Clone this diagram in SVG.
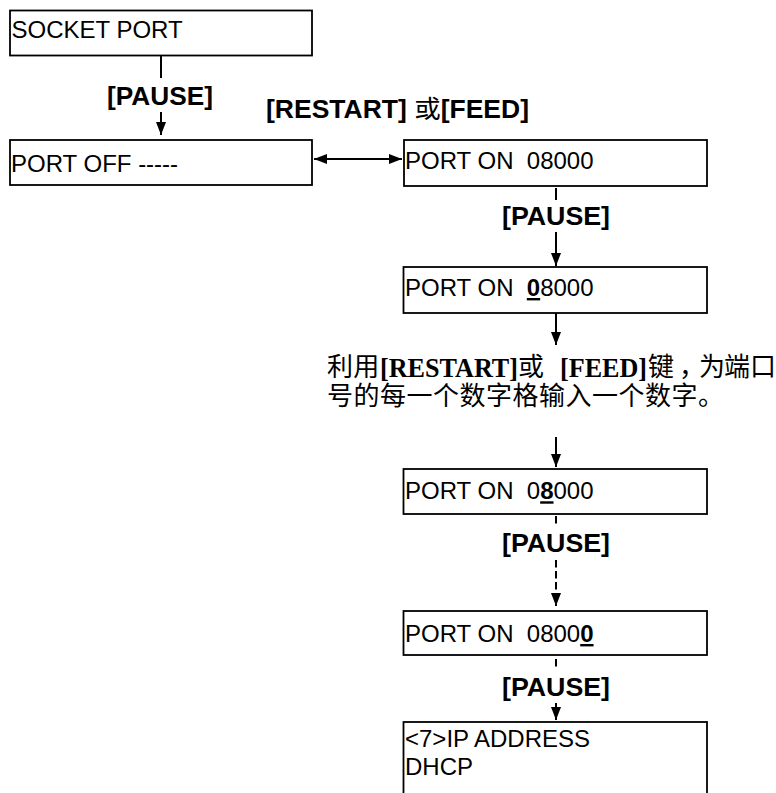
<svg xmlns="http://www.w3.org/2000/svg" width="776" height="793" viewBox="0 0 776 793">
<style>
.box{fill:#fff;stroke:#000;stroke-width:1.8}
.t{font-family:"Liberation Sans",Arial,sans-serif;font-size:24px;fill:#000}
.u{font-weight:bold;text-decoration:underline}
.lbl{font-family:"Liberation Sans",Arial,"Noto Sans CJK SC",sans-serif;font-size:25px;font-weight:bold;fill:#000}
.cj{font-family:"Noto Sans CJK SC",sans-serif;font-weight:normal}
.cjk{font-family:"Noto Sans CJK SC",sans-serif;font-size:26px;fill:#000}
.ser{font-family:"Liberation Serif","Times New Roman",serif;font-weight:bold;font-size:27px}
.ln{stroke:#000;stroke-width:2;fill:none}
.ds{stroke:#000;stroke-width:2;fill:none;stroke-dasharray:7.5 3.5}
</style>
<defs>
<marker id="ah" markerUnits="userSpaceOnUse" markerWidth="13" markerHeight="10" refX="13" refY="5" orient="auto-start-reverse" viewBox="0 0 13 10">
<path d="M0,0 L13,5 L0,10 z" fill="#000"/>
</marker>
</defs>
<g id="socket-port"><rect class="box" x="10" y="10.5" width="302" height="45"/><text class="t" x="11.5" y="37.7">SOCKET PORT</text></g>
<g id="port-off"><rect class="box" x="10" y="140" width="302" height="45"/><text class="t" x="11" y="172">PORT OFF -----</text></g>
<g id="port-on"><rect class="box" x="404" y="140" width="303" height="46"/><text class="t" x="405" y="169.3" xml:space="preserve">PORT ON  08000</text></g>
<g id="port-on-d1"><rect class="box" x="403.5" y="267" width="303.5" height="46"/><text class="t" x="405" y="296" xml:space="preserve">PORT ON  <tspan class="u">0</tspan>8000</text></g>
<g id="instruction">
<text class="cjk" y="376"><tspan x="327" letter-spacing="0.3">利用</tspan><tspan class="ser" x="380" y="377" textLength="138" lengthAdjust="spacingAndGlyphs">[RESTART]</tspan><tspan x="518" y="376">或</tspan><tspan class="ser" x="560" y="377" textLength="87" lengthAdjust="spacingAndGlyphs">[FEED]</tspan><tspan x="648" y="376">键</tspan><tspan x="679">，</tspan><tspan x="699">为</tspan><tspan x="724">端</tspan><tspan x="750">口</tspan></text>
<text class="cjk" x="327" y="405" letter-spacing="0.5">号的每一个数字格输入一个数字。</text>
</g>
<g id="port-on-d2"><rect class="box" x="403.5" y="469" width="303.5" height="45"/><text class="t" x="405" y="499.3" xml:space="preserve">PORT ON  0<tspan class="u">8</tspan>000</text></g>
<g id="port-on-d5"><rect class="box" x="403.5" y="611" width="303.5" height="44"/><text class="t" x="405" y="642" xml:space="preserve">PORT ON  0800<tspan class="u">0</tspan></text></g>
<g id="ip-address"><rect class="box" x="403.5" y="722" width="303.5" height="90"/><text class="t" x="405" y="746.7">&lt;7&gt;IP ADDRESS</text><text class="t" x="405" y="775">DHCP</text></g>
<g id="connectors">
<line class="ln" x1="161" y1="56" x2="161" y2="78"/>
<line class="ln" x1="161" y1="112" x2="161" y2="135" marker-end="url(#ah)"/>
<line class="ln" x1="314" y1="159" x2="402" y2="159" marker-start="url(#ah)" marker-end="url(#ah)"/>
<line class="ln" x1="556" y1="188" x2="556" y2="200"/>
<line class="ln" x1="556" y1="232" x2="556" y2="266" marker-end="url(#ah)"/>
<line class="ln" x1="556" y1="313" x2="556" y2="345" marker-end="url(#ah)"/>
<line class="ln" x1="556" y1="437" x2="556" y2="467" marker-end="url(#ah)"/>
<line class="ds" x1="556" y1="516" x2="556" y2="524"/>
<line class="ds" x1="556" y1="560" x2="556" y2="606" marker-end="url(#ah)"/>
<line class="ds" x1="556" y1="659" x2="556" y2="667"/>
<line class="ds" x1="556" y1="703" x2="556" y2="720" marker-end="url(#ah)"/>
<text class="lbl" x="160" y="105" text-anchor="middle" textLength="106" lengthAdjust="spacingAndGlyphs">[PAUSE]</text>
<text class="lbl" x="266" y="118" textLength="263" lengthAdjust="spacingAndGlyphs">[RESTART] <tspan class="cj">或</tspan>[FEED]</text>
<text class="lbl" x="556" y="225" text-anchor="middle" textLength="108" lengthAdjust="spacingAndGlyphs">[PAUSE]</text>
<text class="lbl" x="556" y="551.7" text-anchor="middle" textLength="108" lengthAdjust="spacingAndGlyphs">[PAUSE]</text>
<text class="lbl" x="556" y="696" text-anchor="middle" textLength="108" lengthAdjust="spacingAndGlyphs">[PAUSE]</text>
</g>
</svg>
